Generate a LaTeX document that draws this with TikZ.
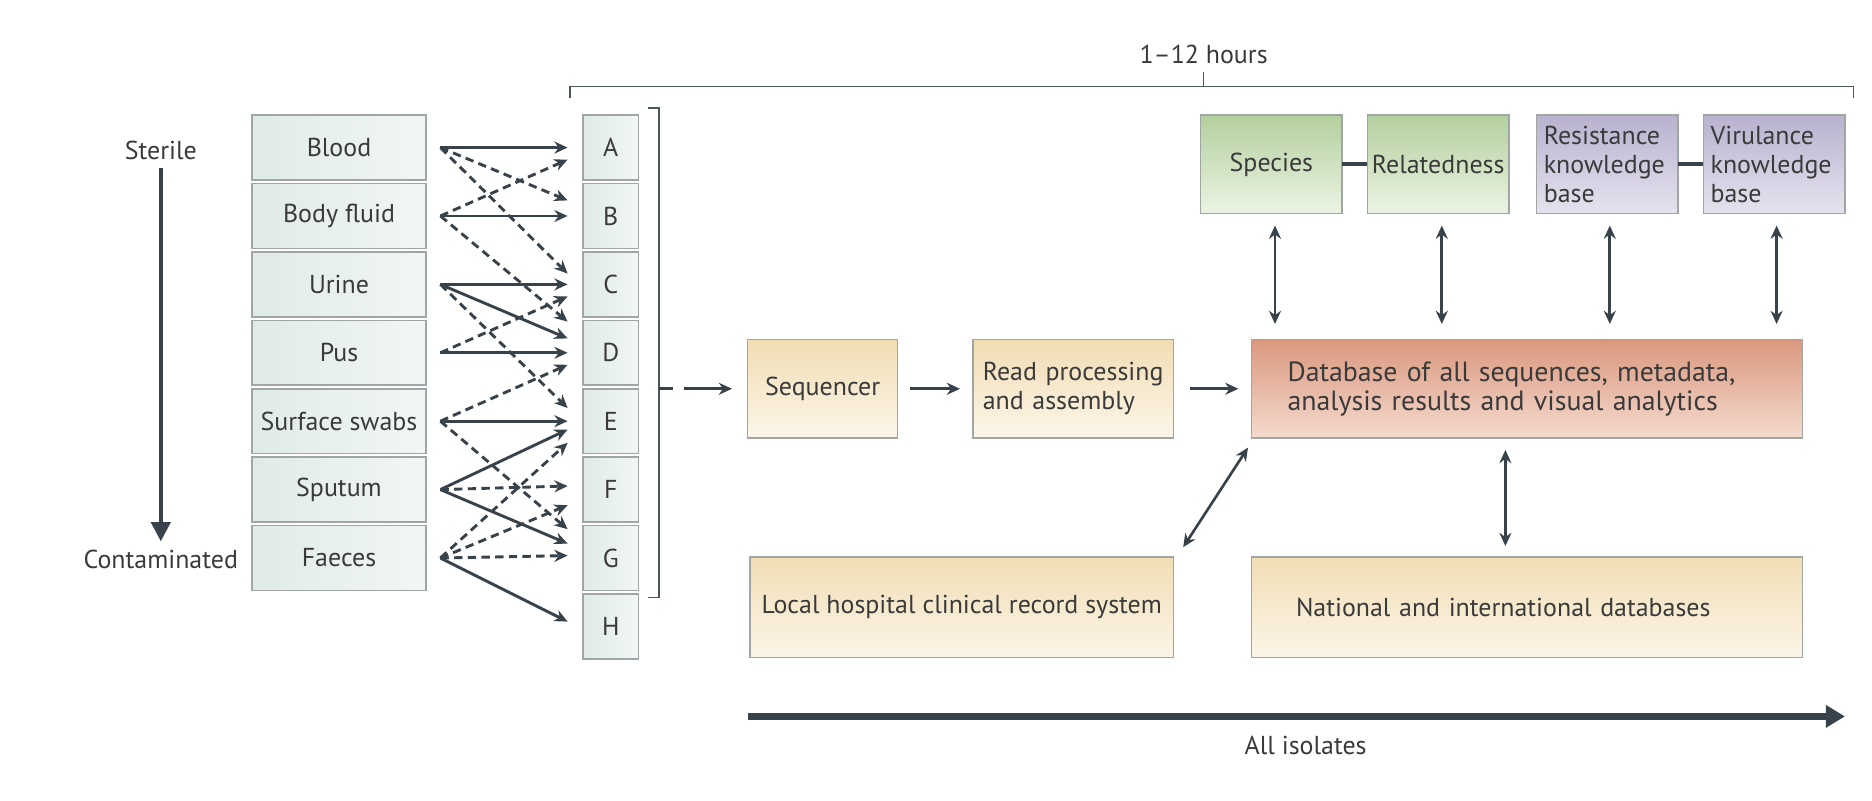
\documentclass[tikz,border=0pt]{standalone}
\usepackage{fontspec}
\setmainfont{PT Sans}
\usetikzlibrary{positioning,calc,arrows.meta}

\definecolor{ink}{HTML}{37424A}
\definecolor{txt}{HTML}{3A3A3A}
\definecolor{rim}{HTML}{A0A7A3}
\definecolor{mintL}{HTML}{E0EBE5}
\definecolor{mintR}{HTML}{F2F7F4}
\definecolor{leafT}{HTML}{B3CF9E}
\definecolor{leafB}{HTML}{ECF4E4}
\definecolor{lilacT}{HTML}{B8B2CE}
\definecolor{lilacB}{HTML}{E5E3EF}
\definecolor{sandT}{HTML}{F1DDB4}
\definecolor{sandB}{HTML}{FCF5E8}
\definecolor{rustT}{HTML}{DA987E}
\definecolor{rustB}{HTML}{F5DACE}

\begin{document}
\begin{tikzpicture}[x=0.5pt,y=-0.5pt,node distance=1.5pt,font=\fontsize{10.8}{12.2}\selectfont,text=txt,
    box/.style={draw=rim,line width=0.6pt,inner sep=0pt,outer sep=0pt},
    sample node/.style={box,left color=mintL,right color=mintR,minimum width=72.5pt,minimum height=27pt},
    letter node/.style={box,left color=mintL,right color=mintR,minimum width=23pt,minimum height=27pt},
    stage node/.style={box,top color=sandT,bottom color=sandB,minimum height=41pt},
    kind node/.style={box,top color=leafT,bottom color=leafB,minimum width=59pt,minimum height=41pt},
    lookup node/.style={box,top color=lilacT,bottom color=lilacB,minimum width=59pt,minimum height=41pt,
        text width=53pt,align=left,inner xsep=3pt},
    link/.style={draw=ink,line width=1.2pt,-{Stealth[length=5.5pt,width=5pt]}},
    maybe/.style={link,dash pattern=on 3.5pt off 2.2pt},
    both/.style={draw=ink,line width=1.1pt,{Stealth[length=5.5pt,width=5pt]}-{Stealth[length=5.5pt,width=5pt]}},
    bracket/.style={draw=ink!90,line width=0.7pt}]
    \useasboundingbox (0,0) rectangle (1560,667);

    % specimens and isolates
    \node[sample node] (blood) at (282.5,123) {Blood};
    \node[sample node] (fluid) [below=of blood] {Body fluid};
    \node[sample node] (urine) [below=of fluid] {Urine};
    \node[sample node] (pus) [below=of urine] {Pus};
    \node[sample node] (swabs) [below=of pus] {Surface swabs};
    \node[sample node] (sputum) [below=of swabs] {Sputum};
    \node[sample node] (faeces) [below=of sputum] {Faeces};

    \node[letter node] (A) [right=65.5pt of blood] {A};
    \node[letter node] (B) [below=of A] {B};
    \node[letter node] (C) [below=of B] {C};
    \node[letter node] (D) [below=of C] {D};
    \node[letter node] (E) [below=of D] {E};
    \node[letter node] (F) [below=of E] {F};
    \node[letter node] (G) [below=of F] {G};
    \node[letter node] (H) [below=of G] {H};

    \node (sterile) at (134,125) {Sterile};
    \node (contam) at (134,466) {Contaminated};
    \draw[draw=ink,line width=1.6pt,-{Triangle[length=8pt,width=8pt]}] (sterile) -- (contam);

    % pipeline
    \node[stage node,minimum width=62.5pt] (seq) at (685.5,324) {Sequencer};
    \node[stage node,minimum width=83.5pt,text width=75.5pt,align=left,inner xsep=4pt] (read) [right=31.5pt of seq]
        {Read processing\\and assembly};
    \node[box,top color=rustT,bottom color=rustB,minimum height=41pt,text width=199.5pt,align=left,inner xsep=15pt,
        font=\fontsize{11.6}{12.2}\selectfont] (db)
        [right=32.5pt of read] {Database of all sequences, metadata,\\analysis results and visual analytics};

    \node[kind node] (species) at (1059.5,137) {Species};
    \node[kind node] (related) [right=10.5pt of species] {Relatedness};
    \node[lookup node] (resist) [right=11.5pt of related] {Resistance\\knowledge\\base};
    \node[lookup node] (virul) [right=10.5pt of resist] {Virulance\\knowledge\\base};

    \node[stage node,minimum width=176.5pt,minimum height=42pt] (local) at (801.5,506) {Local hospital clinical record system};
    \node[stage node,minimum height=42pt,text width=192.5pt,align=left,inner xsep=18.5pt] (national) [right=32.5pt of local]
        {National and international databases};

    \node (hours) at (1003,45) {1--12 hours};
    \node (isolates) at (1088,621) {All isolates};

    % brackets
    \coordinate (top) at ($(A.north west)+(-11,-24)$);
    \draw[bracket] ($(top)+(0,10)$) -- (top) -- (virul.east |- top) -- ++(7,0) -- ++(0,10);
    \draw[bracket] (hours.south) -- (hours.south |- top);
    \draw[bracket] ($(A.north east)+(8,-6)$) -- ++(9,0) coordinate (brtop) -- ($(G.south east)+(17,6)$) -- ++(-9,0);
    \coordinate (brmid) at (brtop |- seq.west);
    \draw[link,dash pattern=on 6pt off 4.5pt on 40pt off 0pt] (brmid) -- ($(seq.west)+(-13,0)$);

    % specimen -> isolate
    \foreach \s in {blood,fluid,urine,pus,swabs,sputum,faeces}
        \coordinate (\s-out) at ($(\s.east)+(12,0)$);
    \path[every edge/.style=link]
        (blood-out) edge ($(A.west)+(-13,0)$)
        (fluid-out) edge ($(B.west)+(-13,0)$)
        (urine-out) edge ($(C.west)+(-13,0)$)
        (urine-out) edge ($(D.west)+(-13,-12)$)
        (pus-out) edge ($(D.west)+(-13,0)$)
        (swabs-out) edge ($(E.west)+(-13,0)$)
        (sputum-out) edge ($(E.west)+(-13,7)$)
        (sputum-out) edge ($(G.west)+(-13,-12)$)
        (faeces-out) edge ($(H.west)+(-13,-4)$)
        ;
    \path[every edge/.style=maybe]
        (blood-out) edge ($(B.west)+(-13,-13)$)
        (blood-out) edge ($(C.west)+(-13,-9)$)
        (fluid-out) edge ($(A.west)+(-13,10)$)
        (fluid-out) edge ($(D.west)+(-13,-26)$)
        (urine-out) edge ($(E.west)+(-13,-11)$)
        (pus-out) edge ($(C.west)+(-13,10)$)
        (swabs-out) edge ($(D.west)+(-13,10)$)
        (swabs-out) edge ($(G.west)+(-13,-24)$)
        (sputum-out) edge ($(F.west)+(-13,-3)$)
        (faeces-out) edge ($(G.west)+(-13,-2)$)
        (faeces-out) edge ($(F.west)+(-13,13)$)
        (faeces-out) edge ($(E.west)+(-13,18)$)
        ;

    % pipeline links
    \draw[link] ($(seq.east)+(10,0)$) -- ($(read.west)+(-11,0)$);
    \draw[link] ($(read.east)+(14,0)$) -- ($(db.west)+(-11,0)$);
    \draw[draw=ink,line width=1.6pt] (species) -- (related);
    \draw[draw=ink,line width=1.6pt] (resist) -- (virul);
    \path[every edge/.style=both]
        ($(species.south)+(3,10)$) edge ($(species.south |- db.north)+(3,-13)$)
        ($(related.south)+(3,10)$) edge ($(related.south |- db.north)+(3,-13)$)
        ($(resist.south)+(2,10)$) edge ($(resist.south |- db.north)+(2,-13)$)
        ($(virul.south)+(2,10)$) edge ($(virul.south |- db.north)+(2,-13)$)
        ($(db.south west)+(-3,8)$) edge ($(local.north east)+(8,-8)$)
        ($(db.south)+(-18,10)$) edge ($(db.south |- national.north)+(-18,-9)$)
        ;
    \draw[draw=ink,line width=3pt,-{Triangle[length=8pt,width=9pt]}]
        ($(local.south west)+(-2,49)$) -- ($(virul.east |- local.south)+(0,49)$);
\end{tikzpicture}
\end{document}
